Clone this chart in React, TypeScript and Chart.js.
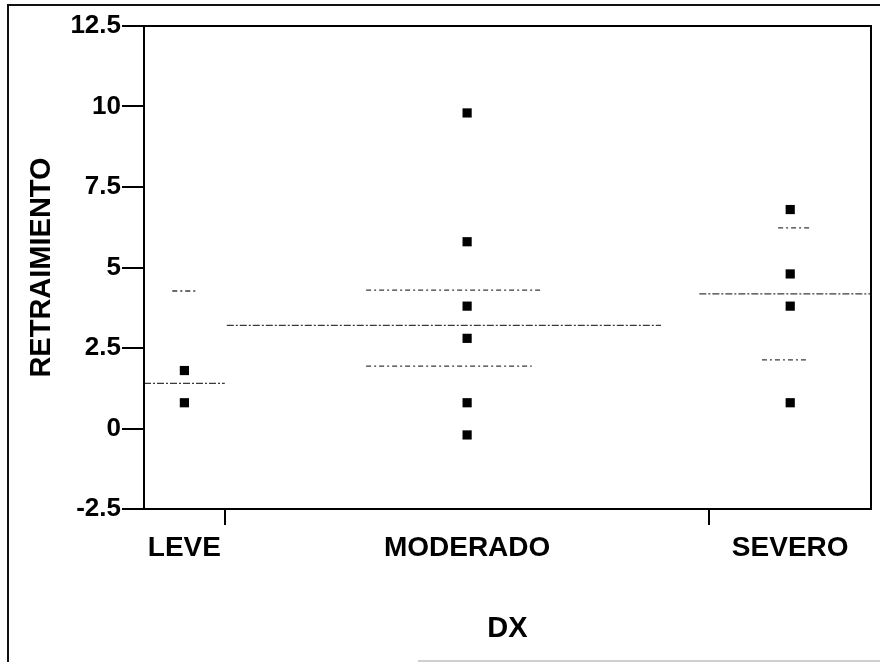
import React, { useEffect, useRef } from 'react';
import { Chart, registerables } from 'chart.js';

Chart.register(...registerables);

// ---- data ----
const categories = ['LEVE', 'MODERADO', 'SEVERO'];
const categoryCenters = [1, 8, 16];
const categoryBounds = [2, 14];
const xMin = 0;
const xMax = 18;
const leveValues = [1.8, 0.8];
const moderadoValues = [9.8, 5.8, 3.8, 2.8, 0.8, -0.2];
const severoValues = [6.8, 4.8, 3.8, 0.8];
const yTicks = [-2.5, 0, 2.5, 5, 7.5, 10, 12.5];
// reference segments: [xStart, xEnd, y]
const meanLines = [
  [0, 2, 1.4],
  [2.05, 12.8, 3.2],
  [13.75, 18, 4.18],
];
const spreadLines = [
  [0.7, 1.3, 4.27],
  [5.5, 9.85, 4.3],
  [5.5, 9.6, 1.94],
  [15.7, 16.5, 6.23],
  [15.3, 16.45, 2.13],
];
const xTitle = 'DX';
const yTitle = 'RETRAIMIENTO';

const FONT = '"Liberation Sans", Arial, Helvetica, sans-serif';

export default function App() {
  const ref = useRef<HTMLCanvasElement | null>(null);

  useEffect(() => {
    if (!ref.current) return;
    const groups = [leveValues, moderadoValues, severoValues];
    const points: { x: number; y: number }[] = [];
    groups.forEach((vals, i) => vals.forEach((v) => points.push({ x: categoryCenters[i], y: v })));

    const segDataset = (seg: number[], dash: number[]) => ({
      type: 'line' as const,
      data: [
        { x: seg[0], y: seg[2] },
        { x: seg[1], y: seg[2] },
      ],
      borderColor: '#3a3a3a',
      borderWidth: 1.3,
      borderDash: dash,
      pointRadius: 0,
      showLine: true,
      fill: false,
    });

    const framePlugin = {
      id: 'frame',
      afterDraw(chart: any) {
        const { ctx, chartArea } = chart;
        ctx.save();
        ctx.strokeStyle = '#000';
        ctx.lineWidth = 2;
        ctx.strokeRect(chartArea.left, chartArea.top, chartArea.right - chartArea.left, chartArea.bottom - chartArea.top);
        // outer figure frame
        ctx.lineWidth = 2;
        ctx.strokeStyle = '#111';
        ctx.beginPath();
        ctx.moveTo(8, 662);
        ctx.lineTo(8, 5);
        ctx.lineTo(880, 5);
        ctx.stroke();
        ctx.strokeStyle = '#cfcfcf';
        ctx.lineWidth = 2;
        ctx.beginPath();
        ctx.moveTo(418, 661);
        ctx.lineTo(880, 661);
        ctx.stroke();
        ctx.restore();
      },
    };

    const chart = new Chart(ref.current, {
      type: 'scatter',
      data: {
        datasets: [
          ...meanLines.map((s) => segDataset(s, [7, 2, 2, 2])),
          ...spreadLines.map((s) => segDataset(s, [5, 3, 2, 3])),
          {
            type: 'scatter' as const,
            data: points,
            backgroundColor: '#000',
            borderColor: '#000',
            pointStyle: 'rect',
            pointRadius: 6.5,
            borderWidth: 0,
          },
        ] as any,
      },
      options: {
        animation: false,
        responsive: true,
        maintainAspectRatio: false,
        layout: { padding: { top: 26, right: 9, left: 0, bottom: 0 } },
        plugins: { legend: { display: false }, tooltip: { enabled: false }, title: { display: false } },
        scales: {
          x: {
            type: 'linear',
            min: xMin,
            max: xMax,
            afterBuildTicks: (scale: any) => {
              const vals = [...categoryCenters, ...categoryBounds].sort((a, b) => a - b);
              scale.ticks = vals.map((v) => ({ value: v }));
            },
            afterFit: (scale: any) => {
              scale.height = 153;
            },
            border: { display: false },
            grid: {
              drawOnChartArea: false,
              drawTicks: true,
              tickLength: 16,
              lineWidth: 2,
              color: (ctx: any) =>
                ctx.tick && categoryBounds.includes(ctx.tick.value) ? '#000' : 'rgba(0,0,0,0)',
            },
            ticks: {
              autoSkip: false,
              maxRotation: 0,
              padding: 6,
              color: '#000',
              font: { family: FONT, size: 28, weight: 'bold' },
              callback: (v: any) => {
                const i = categoryCenters.indexOf(Number(v));
                return i >= 0 ? categories[i] : '';
              },
            },
            title: {
              display: true,
              text: xTitle,
              color: '#000',
              font: { family: FONT, size: 29, weight: 'bold' },
              padding: { top: 0, bottom: 16 },
            },
          },
          y: {
            type: 'linear',
            min: -2.5,
            max: 12.5,
            afterBuildTicks: (scale: any) => {
              scale.ticks = yTicks.map((v) => ({ value: v }));
            },
            afterFit: (scale: any) => {
              scale.width = 144;
            },
            border: { display: false },
            grid: {
              drawOnChartArea: false,
              drawTicks: true,
              tickLength: 22,
              lineWidth: 2,
              color: '#000',
            },
            ticks: {
              padding: 1,
              color: '#000',
              font: { family: FONT, size: 26, weight: 'bold' },
              callback: (v: any) => String(v),
            },
            title: {
              display: true,
              text: yTitle,
              color: '#000',
              font: { family: FONT, size: 29, weight: 'bold' },
              padding: { top: 25, bottom: 0 },
            },
          },
        },
      } as any,
      plugins: [framePlugin],
    });
    return () => chart.destroy();
  }, []);

  return (
    <div style={{ position: 'fixed', left: 0, top: 0, width: 880, height: 662, background: '#fff' }}>
      <canvas ref={ref} />
    </div>
  );
}
